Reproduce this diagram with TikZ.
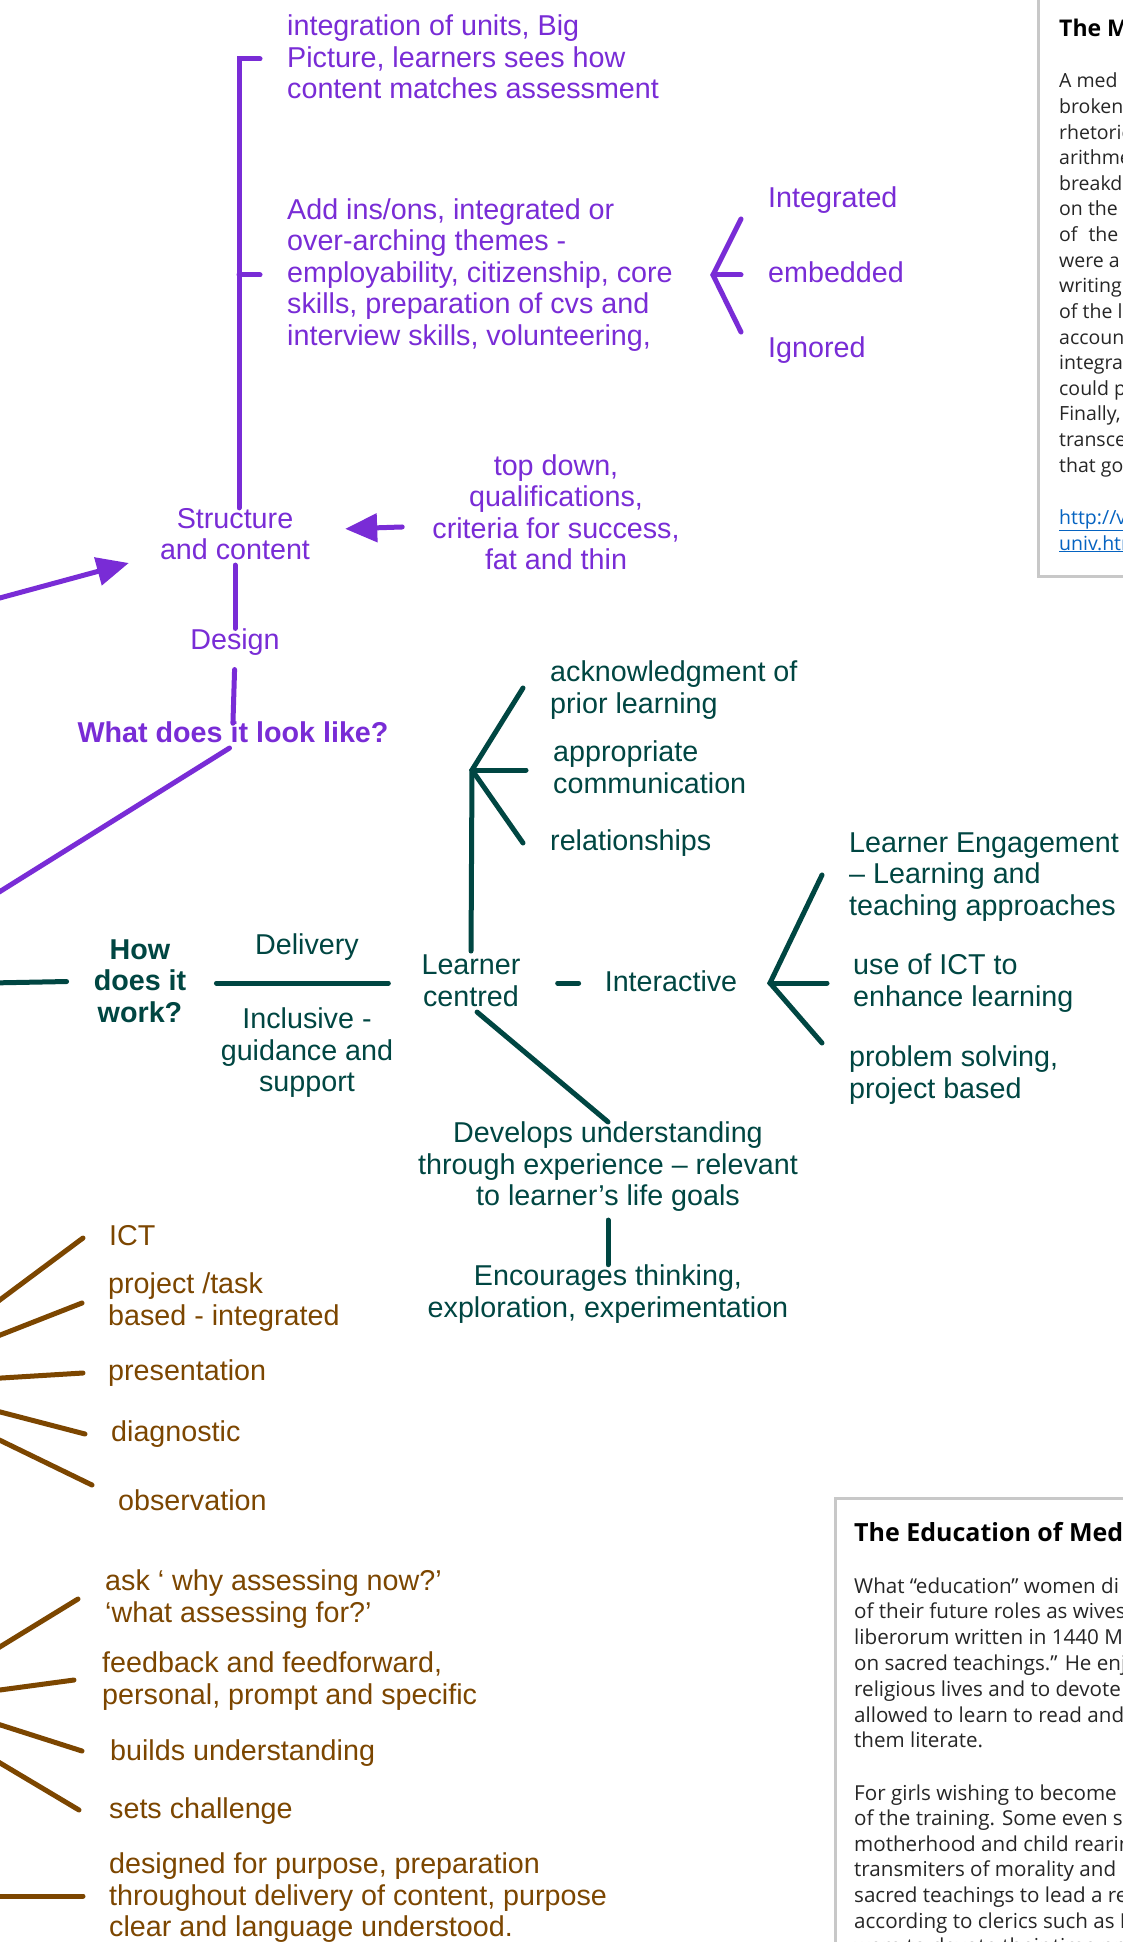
\documentclass[tikz,border=0pt]{standalone}
\usepackage{fontspec}
\setmainfont{Liberation Sans}
\newfontfamily\boxfont{Open Sans}
\usetikzlibrary{arrows.meta}
\definecolor{purp}{RGB}{121,44,214}
\definecolor{deepteal}{RGB}{0,70,66}
\definecolor{brownish}{RGB}{124,70,0}
\definecolor{linkblue}{RGB}{5,99,193}
\definecolor{boxgray}{RGB}{200,200,200}
\tikzset{
  every node/.style={inner sep=0pt},
  bigtext/.style={font=\fontsize{28.7}{31.5}\selectfont},
  purptext/.style={bigtext, text=purp},
  tealtext/.style={bigtext, text=deepteal},
  browntext/.style={bigtext, text=brownish, anchor=west, align=left},
  purpline/.style={draw=purp, line width=5pt, line cap=round},
  tealline/.style={draw=deepteal, line width=5pt, line cap=round},
  brownline/.style={draw=brownish, line width=5pt, line cap=round},
  purparrow/.style={purpline, -{Triangle[length=32pt,width=28pt]}},
  boxline/.style={draw=boxgray, line width=3pt},
  boxtitle/.style={font=\boxfont\bfseries\fontsize{23}{27}\selectfont, anchor=base west},
  boxtext/.style={font=\boxfont\fontsize{19.5}{25}\selectfont, text=black!85, anchor=base west},
  boxtextb/.style={boxtext, font=\boxfont\fontsize{20.6}{26}\selectfont},
}
\begin{document}
\begin{tikzpicture}[x=1pt,y=-1pt]
  % Page
  \useasboundingbox (0,0) rectangle (1123,1942);
  \clip (0,0) rectangle (1123,1942);
  \fill[white] (0,0) rectangle (1123,1942);

  % Design branch
  \node[purptext, align=left, anchor=west] (units) at (287,57) {integration of units, Big\\Picture, learners sees how\\content matches assessment};
  \node[purptext, align=left, anchor=west] (addins) at (287,275) {Add ins/ons, integrated or\\over-arching themes -\\employability, citizenship, core\\skills, preparation of cvs and\\interview skills, volunteering,};
  \node[purptext, anchor=west] (integd) at (768,200) {Integrated};
  \node[purptext, anchor=west] (embed) at (768,272) {embedded};
  \node[purptext, anchor=west] (ignor) at (768,350) {Ignored};
  \node[purptext, align=center] (topdown) at (556,512) {top down,\\qualifications,\\criteria for success,\\fat and thin};
  \node[purptext, align=center] (struct) at (235,534) {Structure\\and content};
  \node[purptext] (design) at (235,642) {Design};
  \node[purptext, font=\fontsize{28.7}{31.5}\selectfont\bfseries] (what) at (233,732) {What does it look like?};

  % Bracket and fork
  \coordinate (brtop) at (239,59);
  \coordinate (brmid) at (239,275);
  \draw[purpline] ([xshift=21pt]brtop) -- (brtop) -- (brtop |- struct.north);
  \draw[purpline] (brmid) -- ++(21,0);
  \coordinate (pfork) at (713,275);
  \draw[purpline] ([xshift=-27pt,yshift=-19pt]integd.west) -- (pfork) -- ([xshift=-27pt,yshift=18pt]ignor.west);
  \draw[purpline] (pfork) -- ([xshift=-27pt,yshift=-3pt]embed.west);

  % Arrows into structure
  \draw[purparrow, shorten <=30pt, shorten >=35pt] ([yshift=-14pt]topdown.west) -- ([yshift=4pt]struct.east);
  \coordinate (designin) at (-15,602);
  \draw[purparrow] (designin) -- ([xshift=-31pt,yshift=-29pt]struct.west);
  \draw[purpline, shorten <=5pt] (struct.south) -- (design.north);
  \draw[purpline, shorten <=14pt, shorten >=-2pt] (design.south) -- (what.north);
  \coordinate (whatleft) at (-20,904);
  \draw[purpline, shorten <=10pt] ([xshift=5pt]what.south) -- (whatleft);

  % Delivery branch
  \node[tealtext, font=\fontsize{28.7}{31.5}\selectfont\bfseries, align=center] (how) at (140,981) {How\\does it\\work?};
  \node[tealtext] (delivery) at (307,947) {Delivery};
  \node[tealtext, align=center] (inclus) at (307,1053) {Inclusive -\\guidance and\\support};
  \node[tealtext, align=center] (learner) at (471,981) {Learner\\centred};
  \node[tealtext, align=left, anchor=west] (ack) at (550,690) {acknowledgment of\\prior learning};
  \node[tealtext, align=left, anchor=west] (approp) at (553,767) {appropriate\\communication};
  \node[tealtext, anchor=west] (relat) at (550,843) {relationships};
  \node[tealtext] (interact) at (671,981) {Interactive};
  \node[tealtext, align=left, anchor=west] (engage) at (849,877) {Learner Engagement\\– Learning and\\teaching approaches};
  \node[tealtext, align=left, anchor=west] (useict) at (853,983) {use of ICT to\\enhance learning};
  \node[tealtext, align=left, anchor=west] (problem) at (849,1075) {problem solving,\\project based};
  \node[tealtext, align=center] (develop) at (608,1167) {Develops understanding\\through experience – relevant\\to learner’s life goals};
  \node[tealtext, align=center] (encour) at (608,1294) {Encourages thinking,\\exploration, experimentation};

  \coordinate (howleft) at (-10,983);
  \draw[tealline, shorten >=27pt] (howleft) -- (how.west);
  \draw[tealline, shorten <=30pt, shorten >=33pt] ([yshift=-2pt]how.east) -- ([yshift=-2pt]how.east -| learner.west);
  \coordinate (lcfork) at (472,770);
  \draw[tealline, shorten <=4pt] (learner.north) -- (lcfork);
  \draw[tealline] ([xshift=-27pt,yshift=2pt]ack.west) -- (lcfork) -- ([xshift=-27pt]relat.west);
  \draw[tealline] (lcfork) -- ([xshift=-27pt,yshift=-3pt]approp.west);
  \draw[tealline, shorten <=37pt, shorten >=26pt] ([yshift=-2pt]interact.west -| learner.east) -- ([yshift=-2pt]interact.west);
  \coordinate (infork) at (770,983);
  \draw[tealline] ([xshift=-27pt,yshift=2pt]engage.west) -- (infork) -- ([xshift=-27pt,yshift=32pt]problem.west);
  \draw[tealline] (infork) -- ([xshift=-26pt]useict.west);
  \draw[tealline, shorten <=8pt] (learner.south) -- (develop.north);
  \draw[tealline, shorten <=8pt] (develop.south) -- (encour.north);

  % Assessment branch
  \node[browntext] (ict) at (109,1236) {ICT};
  \node[browntext] (project) at (108,1302) {project /task\\based - integrated};
  \node[browntext] (present) at (108,1373) {presentation};
  \node[browntext] (diagn) at (111,1434) {diagnostic};
  \node[browntext] (observ) at (118,1500) {observation};
  \node[browntext] (askwhy) at (105,1599) {ask ‘ why assessing now?’\\‘what assessing for?’};
  \node[browntext] (feedb) at (102,1681) {feedback and feedforward,\\personal, prompt and specific};
  \node[browntext] (builds) at (110,1753) {builds understanding};
  \node[browntext] (sets) at (109,1811) {sets challenge};
  \node[browntext] (designed) at (109,1898) {designed for purpose, preparation\\throughout delivery of content, purpose\\clear and language understood.};
  \foreach \nm/\ty/\sx/\sy in {ict/1311/-26/-2, project/1341/-26/-1, present/1379/-25/0, diagn/1408/-26/0, observ/1433/-26/15, askwhy/1656/-27/0, feedb/1692/-28/1, builds/1720/-28/2, sets/1754/-30/1, designed/1896/-26/2}
    \draw[brownline] (-15,\ty) coordinate (tail-\nm) -- ([xshift=\sx pt,yshift=\sy pt]\nm.west);

  % Side boxes
  \draw[boxline] (1038,-10) rectangle (1140,576);
  \node[boxtitle] (mtitle) at (1059,37) {The M};
  \foreach \txt [count=\i from 0] in {A med, broken, rhetoric, arithme, breakdo, on the, of\hspace{0.3em} the, were a, writing, of the l, accoun, integra, could p, {Finally,}, transce, that go}
    \node[boxtext] (mline\i) at (1059,{88+25.6*\i}) {\txt};
  \node[boxtext, text=linkblue] (mlink) at (1059,524) {\underline{http://v}};
  \node[boxtext, text=linkblue] (mlinkb) at (1059,550) {\underline{univ.htr}};

  \draw[boxline] (835,1498) rectangle (1140,1960);
  \node[boxtitle, font=\boxfont\bfseries\fontsize{25}{29}\selectfont] (etitle) at (854,1541) {The Education of Med};
  \foreach \txt [count=\i from 0] in {What “education” women di, of their future roles as wives, liberorum written in 1440 Ma, on sacred teachings.” He enj, religious lives and to devote al, allowed to learn to read and, them literate.}
    \node[boxtextb] (eline\i) at (854,{1593+25.8*\i}) {\txt};
  \foreach \txt [count=\i from 0] in {For girls wishing to become, of the training. Some even st, motherhood and child rearing, transmiters of morality and re, sacred teachings to lead a regu, according to clerics such as F, were to devote their time pri}
    \node[boxtextb] (fline\i) at (854,{1800+25.6*\i}) {\txt};
\end{tikzpicture}
\end{document}
